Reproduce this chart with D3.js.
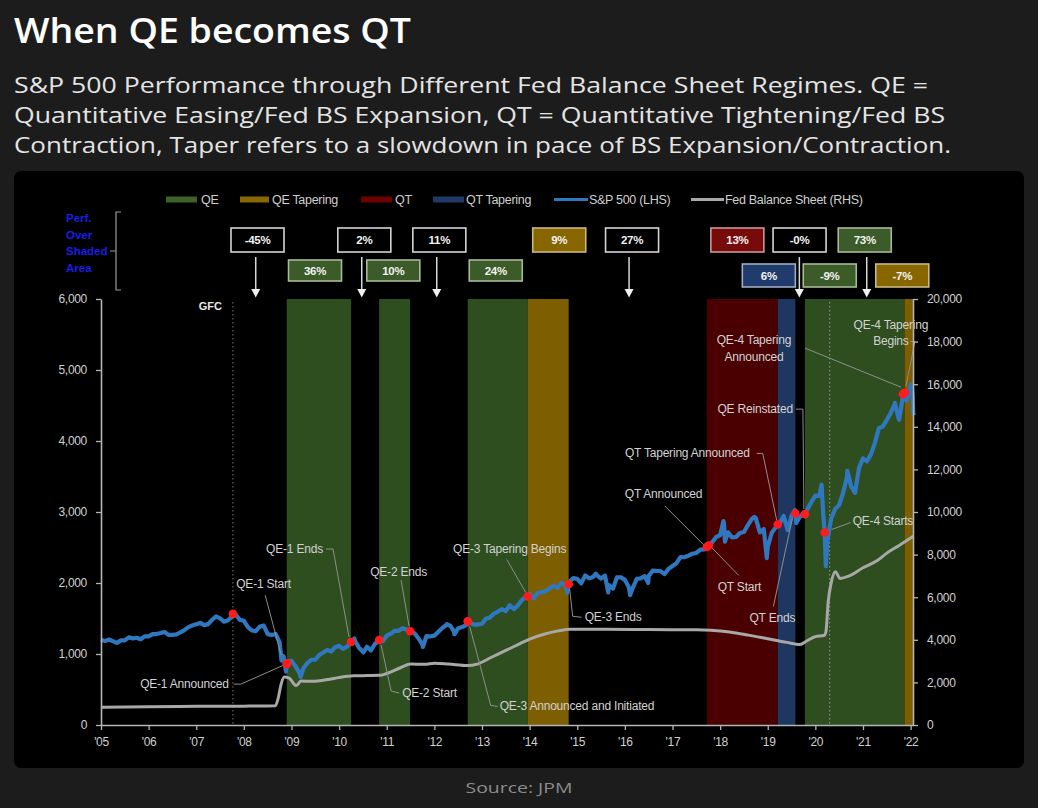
<!DOCTYPE html>
<html><head><meta charset="utf-8">
<script src="https://cdn.jsdelivr.net/npm/d3@7"></script>
<style>
html,body{margin:0;padding:0;background:#1c1c1c;}
svg{display:block}
</style></head><body>
<svg id="c" width="1038" height="808"></svg>
<script>
// ---------------- DATA ----------------
const spxStartYear = 2005;
// S&P 500 month-end closes, Jan 2005 .. Dec 2021
const spxMonthEnd = [
 1181,1204,1181,1157,1192,1191,1234,1220,1229,1207,1249,1248,
 1280,1281,1295,1311,1270,1270,1277,1304,1336,1378,1401,1418,
 1438,1407,1421,1482,1531,1503,1455,1474,1527,1549,1481,1468,
 1379,1331,1323,1386,1400,1280,1267,1283,1166,969,896,903,
 826,735,798,873,919,919,987,1021,1057,1036,1096,1115,
 1074,1104,1169,1187,1089,1031,1102,1049,1141,1183,1181,1258,
 1286,1327,1326,1364,1345,1321,1292,1219,1131,1253,1247,1258,
 1312,1366,1408,1398,1310,1362,1379,1407,1441,1412,1416,1426,
 1498,1515,1569,1598,1631,1606,1686,1633,1682,1757,1806,1848,
 1783,1859,1872,1884,1924,1960,1931,2003,1972,2018,2068,2059,
 1995,2105,2068,2086,2107,2063,2104,1972,1920,2079,2080,2044,
 1940,1932,2060,2065,2097,2099,2174,2171,2168,2126,2199,2239,
 2279,2364,2363,2384,2412,2423,2470,2472,2519,2575,2648,2674,
 2824,2714,2641,2648,2705,2718,2816,2902,2914,2712,2760,2507,
 2704,2784,2834,2946,2752,2942,2980,2926,2977,3038,3141,3231,
 3226,2954,2585,2912,3044,3100,3271,3500,3363,3270,3622,3756,
 3714,3811,3973,4181,4204,4298,4395,4523,4308,4605,4567,4766
];
// intra-month highs/lows [decimal year, level]
const spxExtra = [
 [2005.0,1202],[2008.79,909],[2008.885,752],[2009.19,677],[2010.32,1217],[2010.51,1022],
 [2011.76,1099],[2012.26,1419],[2012.42,1278],[2014.79,1862],[2015.39,2131],[2015.65,1868],
 [2016.11,1829],[2016.49,2001],[2018.07,2873],[2018.10,2581],[2018.72,2931],[2018.98,2351],
 [2019.42,2744],[2019.57,3026],[2019.60,2844],[2020.13,3386],[2020.22,2237],[2020.67,3580],
 [2021.67,4537],[2021.76,4300],[2022.01,4796],[2022.04,4662],[2022.055,4400],[2022.065,4360]
];
// Fed balance sheet, $bn [decimal year, value]
const fedBalanceSheet = [
 [2005.0,830],[2006.0,855],[2007.0,875],[2008.0,885],[2008.66,905],[2008.72,1250],[2008.78,1900],
 [2008.85,2250],[2008.95,2200],[2009.1,1850],[2009.2,2060],[2009.4,2050],[2009.6,2080],[2009.8,2150],
 [2010.0,2230],[2010.3,2310],[2010.6,2320],[2010.85,2330],[2011.0,2420],[2011.3,2700],[2011.5,2860],
 [2011.8,2850],[2012.0,2900],[2012.3,2860],[2012.7,2790],[2012.9,2860],[2013.2,3180],[2013.5,3500],
 [2013.8,3820],[2014.0,4030],[2014.3,4260],[2014.6,4420],[2014.85,4500],[2015.5,4500],[2016.5,4480],
 [2017.5,4470],[2017.8,4450],[2018.2,4370],[2018.6,4220],[2019.0,4050],[2019.4,3880],[2019.68,3780],
 [2019.8,3920],[2020.0,4150],[2020.18,4200],[2020.22,4350],[2020.27,5800],[2020.33,6650],[2020.42,7200],
 [2020.52,6880],[2020.7,6990],[2021.0,7380],[2021.3,7720],[2021.5,8070],[2021.75,8420],[2022.0,8780],[2022.06,8870]
];
const regimeTypes = ["QE","QE Tapering","QT","QT Tapering"];
const regimes = [
 {type:"QE", start:2008.9, end:2010.25},
 {type:"QE", start:2010.84, end:2011.49},
 {type:"QE", start:2012.7, end:2013.96},
 {type:"QE Tapering", start:2013.96, end:2014.82},
 {type:"QT", start:2017.72, end:2019.21},
 {type:"QT Tapering", start:2019.21, end:2019.58},
 {type:"QE", start:2019.78, end:2021.87},
 {type:"QE Tapering", start:2021.87, end:2022.05}
];
const events = [
 {label:"", t:2007.77, v:1565},
 {label:"QE-1 Announced", t:2008.90, v:857},
 {label:"QE-1 Start", t:2008.91, v:870},
 {label:"QE-1 Ends", t:2010.25, v:1169},
 {label:"QE-2 Start", t:2010.84, v:1197},
 {label:"QE-2 Ends", t:2011.49, v:1321},
 {label:"QE-3 Announced and Initiated", t:2012.70, v:1459},
 {label:"QE-3 Tapering Begins", t:2013.96, v:1810},
 {label:"QE-3 Ends", t:2014.82, v:1982},
 {label:"QT Announced", t:2017.72, v:2508},
 {label:"QT Start", t:2017.76, v:2529},
 {label:"QT Tapering Announced", t:2019.21, v:2824},
 {label:"QT Ends", t:2019.58, v:2980},
 {label:"QE Reinstated", t:2019.78, v:2970},
 {label:"QE-4 Starts", t:2020.195, v:2711},
 {label:"QE-4 Tapering Announced", t:2021.84, v:4660},
 {label:"QE-4 Tapering Begins", t:2021.88, v:4683}
];
const markerLines = [{label:"GFC", t:2007.77}, {label:"", t:2020.3}];
const perfLabels = ["-45%","36%","2%","10%","11%","24%","9%","27%","13%","6%","-0%","-9%","73%","-7%"];
const perfKinds  = ["none","QE","none","QE","none","QE","QE Tapering","none","QT","QT Tapering","none","QE","QE","QE Tapering"];
const yearTicks = d3.range(2005, 2023);
const leftTicks = d3.range(0, 6001, 1000);
const rightTicks = d3.range(0, 20001, 2000);

// ---------------- LAYOUT ----------------
const boxLayout = [ // center (year), row, arrow (year or null)
 {c:2008.286,row:1,arrow:2008.249},{c:2009.494,row:2},{c:2010.529,row:1,arrow:2010.475},
 {c:2011.138,row:2},{c:2012.104,row:1,arrow:2012.05},{c:2013.289,row:2},{c:2014.622,row:1},
 {c:2016.151,row:1,arrow:2016.088},{c:2018.362,row:1},{c:2019.023,row:3},
 {c:2019.668,row:1,arrow:2019.664},{c:2020.302,row:3},{c:2021.037,row:1,arrow:2021.079},{c:2021.825,row:3}
];
const annotLayout = {
 "QE-1 Announced": {dx:-58, dy:24, anchor:"end", leader:[[-53,20],[-46,20],[-3,1]]},
 "QE-1 Start": {dx:-51, dy:-75, anchor:"start", leader:[[-22,-68],[-6,-8]]},
 "QE-1 Ends": {dx:-28, dy:-89, anchor:"end", leader:[[-25,-93],[-18,-93],[-2,-5]]},
 "QE-2 Start": {dx:23, dy:57, anchor:"start", leader:[[2,5],[12,51],[20,53]]},
 "QE-2 Ends": {dx:17, dy:-55, anchor:"end", leader:[[-9,-51],[-1,-5]]},
 "QE-3 Announced and Initiated": {dx:32, dy:89, anchor:"start", leader:[[2,5],[23,84],[30,85]]},
 "QE-3 Tapering Begins": {dx:-18, dy:-43, anchor:"middle", leader:[[-21,-37],[-2,-4]]},
 "QE-3 Ends": {dx:16, dy:37, anchor:"start", leader:[[1,5],[4,32],[13,33]]},
 "QT Announced": {dx:-82, dy:-49, anchor:"start", leader:[[-42,-41],[-3,-2]]},
 "QT Start": {dx:9, dy:46, anchor:"start", leader:[[1,0],[30,30]]},
 "QT Tapering Announced": {dx:-28, dy:-67, anchor:"end", leader:[[-21,-71],[-15,-71],[-1,-4]]},
 "QT Ends": {dx:-23, dy:109, anchor:"middle", leader:[[-22,93],[-3,5]]},
 "QE Reinstated": {dx:-12, dy:-101, anchor:"end", leader:[[-9,-105],[-2,-105],[-1,-5]]},
 "QE-4 Starts": {dx:28, dy:-8, anchor:"start", leader:[[7,-3],[26,-10]]},
 "QE-4 Tapering Announced": {dx:-149, dy:-50, anchor:"middle", lines:["QE-4 Tapering","Announced"], leader:[[-98,-46],[-2,-7]]},
 "QE-4 Tapering Begins": {dx:-14, dy:-64, anchor:"middle", lines:["QE-4 Tapering","Begins"], leader:[[5,-51],[10,-51],[1,-6]]}
};
const shadeColor = {"QE":"#2f4e20","QE Tapering":"#7d5e00","QT":"#4a0000","QT Tapering":"#1e3760"};
const legendColor = {"QE":"#3d6129","QE Tapering":"#8a6800","QT":"#6e0000","QT Tapering":"#1f3a66"};
const boxFill = {"none":"#000","QE":"#3b5b28","QE Tapering":"#876600","QT":"#770b0b","QT Tapering":"#213c6c"};
const boxStroke = {"none":"#d4d4d4","QE":"#a9b99a","QE Tapering":"#c8b888","QT":"#c89898","QT Tapering":"#a0aac0"};
const NARROW = '"Liberation Sans Narrow","Arial Narrow","Liberation Sans",sans-serif';

// ---------------- DRAW ----------------
const svg = d3.select("#c");
svg.append("rect").attr("width",1038).attr("height",808).attr("fill","#1c1c1c");

svg.append("text").attr("x",14).attr("y",43).attr("fill","#ffffff")
  .style("font-family",'"Open Sans",sans-serif').style("font-weight",600).style("font-size","34px")
  .attr("textLength",397).attr("lengthAdjust","spacingAndGlyphs").text("When QE becomes QT");
const sub = [
 ["S&P 500 Performance through Different Fed Balance Sheet Regimes. QE =", 93, 914],
 ["Quantitative Easing/Fed BS Expansion, QT = Quantitative Tightening/Fed BS", 123, 931],
 ["Contraction, Taper refers to a slowdown in pace of BS Expansion/Contraction.", 153, 937]
];
sub.forEach(s => svg.append("text").attr("x",14).attr("y",s[1]).attr("fill","#e4e4e4")
  .style("font-family",'"Open Sans",sans-serif').style("font-size","21px")
  .attr("textLength",s[2]).attr("lengthAdjust","spacingAndGlyphs").text(s[0]));

svg.append("text").attr("x",519).attr("y",793).attr("text-anchor","middle").attr("fill","#8c8c8c")
  .style("font-family",'"Open Sans",sans-serif').style("font-size","15px")
  .attr("textLength",107).attr("lengthAdjust","spacingAndGlyphs").text("Source: JPM");

// panel
svg.append("rect").attr("x",14).attr("y",171).attr("width",1010).attr("height",597).attr("rx",7).attr("fill","#000");

const x = d3.scaleLinear().domain([2005, 2022.05]).range([101, 913]);
const yL = d3.scaleLinear().domain([0, 6000]).range([725, 299]);
const yR = d3.scaleLinear().domain([0, 20000]).range([725, 299]);

// shading
svg.append("g").selectAll("rect").data(regimes).join("rect")
  .attr("x", d => x(d.start)).attr("width", d => x(d.end) - x(d.start))
  .attr("y", yL(6000)).attr("height", yL(0) - yL(6000))
  .attr("fill", d => shadeColor[d.type]);

// marker lines
markerLines.forEach(m => {
  svg.append("line").attr("x1",x(m.t)).attr("x2",x(m.t)).attr("y1",302).attr("y2",yL(0))
    .attr("stroke", m.label ? "#777" : "#9a9a9a").attr("stroke-width",1).attr("stroke-dasharray","1.5,2.5");
  if (m.label) svg.append("text").attr("x",x(m.t)-11).attr("y",310).attr("text-anchor","end")
    .attr("fill","#e8e8e8").style("font-family",NARROW).style("font-weight","bold").style("font-size","11px").text(m.label);
});

// Fed BS line
svg.append("path").datum(fedBalanceSheet)
  .attr("d", d3.line().x(d => x(d[0])).y(d => yR(d[1])).curve(d3.curveMonotoneX))
  .attr("fill","none").attr("stroke","#a8a8a8").attr("stroke-width",3);

// S&P line
const spx = spxMonthEnd.map((v,i) => [spxStartYear + (i+1)/12, v])
  .concat(spxExtra)
  .concat(events.map(e => [e.t, e.v]))
  .sort((a,b) => a[0]-b[0]);
svg.append("path").datum(spx)
  .attr("d", d3.line().x(d => x(d[0])).y(d => yL(d[1])))
  .attr("fill","none").attr("stroke","#2f78bf").attr("stroke-width",4.2).attr("stroke-linejoin","round");

// annotations leaders
const ann = svg.append("g");
events.filter(e => e.label).forEach(e => {
  const L = annotLayout[e.label];
  const px = x(e.t), py = yL(e.v);
  ann.append("path").attr("d", d3.line()(L.leader.map(p => [px+p[0], py+p[1]])))
    .attr("fill","none").attr("stroke","#8e8e8e").attr("stroke-width",1);
});
// dots
svg.append("g").selectAll("circle").data(events).join("circle")
  .attr("cx", d => x(d.t)).attr("cy", d => yL(d.v)).attr("r",4.3).attr("fill","#ff1c1c");
// labels
events.filter(e => e.label).forEach(e => {
  const L = annotLayout[e.label];
  const px = x(e.t), py = yL(e.v);
  const lines = L.lines || [e.label];
  lines.forEach((ln,i) => ann.append("text").attr("x",px+L.dx).attr("y",py+L.dy+i*16.5)
    .attr("text-anchor",L.anchor).attr("fill","#d2d2d2")
    .style("font-family",NARROW).style("font-size","12px").style("letter-spacing","-0.2px").text(ln));
});

// axes
function styleAxis(g){
  g.select(".domain").attr("stroke","#b4b4b4").attr("stroke-width",1.6);
  g.selectAll(".tick line").attr("stroke","#b4b4b4").attr("stroke-width",1.3);
  g.selectAll(".tick text").attr("fill","#d0d0d0").style("font-family",NARROW).style("font-size","12px").style("letter-spacing","-0.3px");
}
svg.append("g").attr("transform","translate(101,0)")
  .call(d3.axisLeft(yL).tickValues(leftTicks).tickFormat(d3.format(",")).tickSize(5).tickSizeOuter(0).tickPadding(9))
  .call(styleAxis);
svg.append("g").attr("transform","translate(913,0)")
  .call(d3.axisRight(yR).tickValues(rightTicks).tickFormat(d3.format(",")).tickSize(5).tickSizeOuter(0).tickPadding(9))
  .call(styleAxis);
svg.append("g").attr("transform","translate(0,725)")
  .call(d3.axisBottom(x).tickValues(yearTicks).tickFormat(d => "'" + String(d).slice(2)).tickSize(5).tickSizeOuter(0).tickPadding(7))
  .call(styleAxis);

// legend
const leg = svg.append("g");
const legItems = [
 {k:"QE", sx:166, sw:31, tx:201, kind:"rect"},
 {k:"QE Tapering", sx:240, sw:29, tx:272, kind:"rect"},
 {k:"QT", sx:361, sw:31, tx:395, kind:"rect"},
 {k:"QT Tapering", sx:433, sw:31, tx:466, kind:"rect"},
 {k:"S&P 500 (LHS)", sx:554, sw:34, tx:589, kind:"line", c:"#2f78bf"},
 {k:"Fed Balance Sheet (RHS)", sx:691, sw:33, tx:725, kind:"line", c:"#a8a8a8"}
];
legItems.forEach(it => {
  if (it.kind === "rect") leg.append("rect").attr("x",it.sx).attr("y",196.5).attr("width",it.sw).attr("height",6).attr("fill",legendColor[it.k]);
  else leg.append("line").attr("x1",it.sx).attr("x2",it.sx+it.sw).attr("y1",199.5).attr("y2",199.5).attr("stroke",it.c).attr("stroke-width",3);
  leg.append("text").attr("x",it.tx).attr("y",204).attr("fill","#cfcfcf")
    .style("font-family",NARROW).style("font-size","12.5px").style("letter-spacing","-0.3px").text(it.k);
});

// Perf over shaded area text + bracket
["Perf.","Over","Shaded","Area"].forEach((t,i) => svg.append("text").attr("x",66).attr("y",222+i*16.7)
  .attr("fill","#1c1ce6").style("font-family",NARROW).style("font-weight","bold").style("font-size","11.5px").text(t));
svg.append("path").attr("d","M121,212 L116,212 L116,290 L121,290 M116,251 L110,251")
  .attr("fill","none").attr("stroke","#9a9a9a").attr("stroke-width",1.2);

// perf boxes
const boxes = svg.append("g");
perfLabels.forEach((lab,i) => {
  const L = boxLayout[i], kind = perfKinds[i];
  const cx = x(L.c);
  const by = L.row === 1 ? 228 : (L.row === 2 ? 260 : 264);
  const bh = L.row === 1 ? 24 : (L.row === 2 ? 21 : 23);
  boxes.append("rect").attr("x",cx-26.5).attr("y",by).attr("width",53).attr("height",bh)
    .attr("fill",boxFill[kind]).attr("stroke",boxStroke[kind]).attr("stroke-width",1.6);
  boxes.append("text").attr("x",cx).attr("y",by+bh/2+4).attr("text-anchor","middle").attr("fill","#f2f2f2")
    .style("font-family",NARROW).style("font-weight","bold").style("font-size","11.5px").style("letter-spacing","-0.3px").text(lab);
  if (L.arrow) {
    const ax = x(L.arrow);
    boxes.append("line").attr("x1",ax).attr("x2",ax).attr("y1",257).attr("y2",291).attr("stroke","#d8d8d8").attr("stroke-width",1.5);
    boxes.append("path").attr("d",`M${ax-4.5},289 L${ax+4.5},289 L${ax},297.5 Z`).attr("fill","#f0f0f0");
  }
});
</script>
</body></html>
